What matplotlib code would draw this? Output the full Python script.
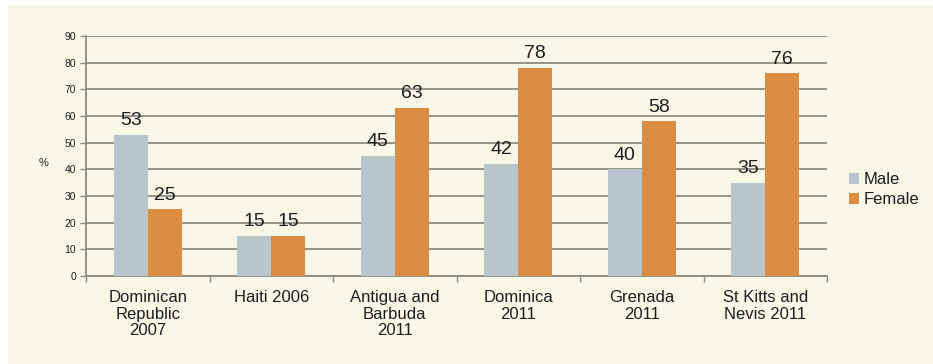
import matplotlib.pyplot as plt
import numpy as np
from matplotlib.patches import Rectangle

# Data
categories = ['Dominican\nRepublic\n2007', 'Haiti 2006', 'Antigua and\nBarbuda\n2011',
              'Dominica\n2011', 'Grenada\n2011', 'St Kitts and\nNevis 2011']
male = [53, 15, 45, 42, 40, 35]
female = [25, 15, 63, 78, 58, 76]

plt.rcParams['font.family'] = ['Liberation Sans', 'DejaVu Sans']

bg = '#f9f7e6'
male_color = '#b9c5cc'
female_color = '#db8d42'
grid_color = '#8c8c80'
text_color = '#1e1e1e'

fig = plt.figure(figsize=(9.33, 3.64), dpi=100)
fig.patch.set_facecolor('white')
# cream panel with thin white strip on top and left
fig.patches.append(Rectangle((8 / 933, 0), 1, 1 - 5 / 364, transform=fig.transFigure,
                             facecolor=bg, edgecolor='none', zorder=-10))

ax = fig.add_axes([86 / 933, 1 - 276 / 364, 741 / 933, 240 / 364])
ax.set_facecolor(bg)

x = np.arange(len(categories))
w = 0.275
b1 = ax.bar(x - w / 2, male, w, color=male_color, label='Male', zorder=3)
b2 = ax.bar(x + w / 2, female, w, color=female_color, label='Female', zorder=3)

ax.bar_label(b1, padding=4, fontsize=14, color=text_color)
ax.bar_label(b2, padding=4, fontsize=14, color=text_color)

ax.set_ylim(0, 90)
ax.set_xlim(-0.5, len(categories) - 0.5)
ax.set_yticks(range(0, 91, 10))
ax.tick_params(axis='y', labelsize=7.5, length=4, color=grid_color, width=1, pad=3,
               labelcolor=text_color)
ax.yaxis.grid(True, color=grid_color, linewidth=1.3, zorder=0)
ax.set_axisbelow(True)

ax.set_xticks(x)
ax.set_xticklabels(categories, fontsize=12, linespacing=1.15, color=text_color)
ax.set_xticks(np.arange(-0.5, len(categories), 1), minor=True)
ax.tick_params(axis='x', which='major', length=0, pad=10)
ax.tick_params(axis='x', which='minor', length=4, color=grid_color, width=1)

for s in ['top', 'right']:
    ax.spines[s].set_visible(False)
for s in ['left', 'bottom']:
    ax.spines[s].set_color(grid_color)
    ax.spines[s].set_linewidth(1.3)

ax.set_ylabel('%', rotation=0, fontsize=8, color=text_color, va='center')
ax.yaxis.set_label_coords(-0.057, 0.47)

leg = ax.legend(loc='center left', bbox_to_anchor=(1.01, 0.36), frameon=False, fontsize=12,
                handlelength=0.55, handleheight=0.6, handletextpad=0.3, labelspacing=0.3)
for t in leg.get_texts():
    t.set_color(text_color)

plt.savefig('out.png', dpi=100, facecolor=fig.get_facecolor())
